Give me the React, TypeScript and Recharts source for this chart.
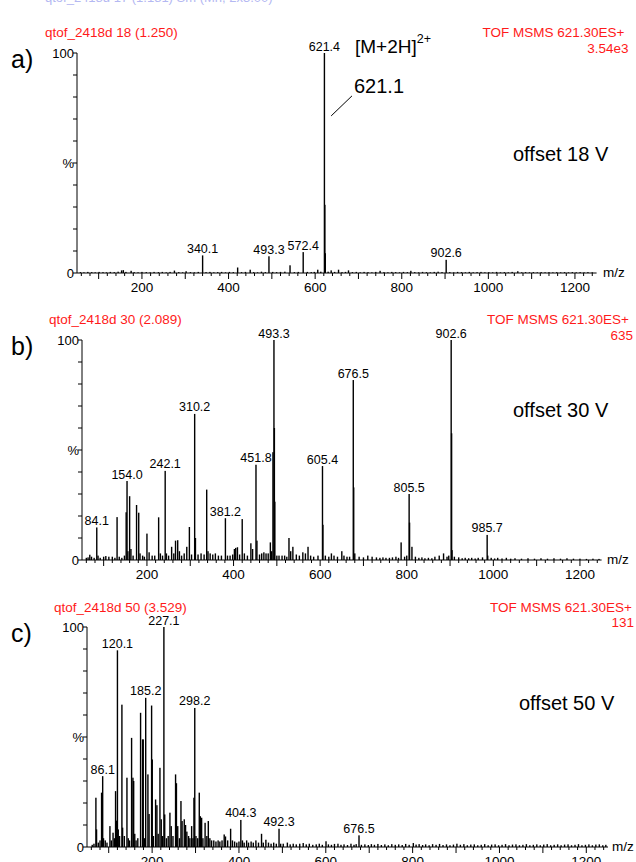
import React from 'react'
import { BarChart, Bar, XAxis, YAxis, LabelList, ReferenceLine } from 'recharts'

const FONT = '"Liberation Sans", Arial, Helvetica, sans-serif'
const RED = '#ff1a1a'

// axis ticks
const xLabelTicks = [200, 400, 600, 800, 1000, 1200]
const xTicks = Array.from({ length: 60 }, (_, i) => 60 + i * 20)
const yTicks = [0, 10, 20, 30, 40, 50, 60, 70, 80, 90, 100]

// a) offset 18 V  [m/z, %]
const peaksA: [number, number][] = [
  [58, 0.4], [66, 0.3], [75, 0.5], [84, 0.4], [92, 0.3], [101, 0.5], [110, 0.4], [118, 0.3],
  [127, 0.5], [136, 0.4], [145, 0.6], [153, 1.2], [157, 1.3], [163, 0.5], [175, 1.0], [182, 0.4],
  [191, 0.3], [200, 0.5], [210, 0.4], [219, 0.3], [228, 0.5], [238, 0.4], [247, 0.5], [256, 0.3],
  [265, 0.5], [275, 1.1], [285, 0.4], [294, 0.3], [302, 0.8], [312, 0.4], [321, 0.3], [330, 0.5],
  [340.1, 8], [348, 0.4], [357, 0.5], [366, 0.3], [375, 0.4], [384, 0.5], [393, 0.3], [402, 0.5],
  [411, 0.4], [421, 2.5], [430, 0.4], [439, 0.5], [450, 1.5], [458, 0.4], [467, 0.3], [476, 0.6],
  [485, 0.4], [493.3, 7.6], [502, 0.5], [511, 0.4], [520, 0.5], [530, 0.6], [542, 3.5], [552, 0.4],
  [561, 0.5], [572.4, 9.5], [582, 0.5], [591, 0.4], [598, 0.5], [606, 1.5], [613, 0.6],
  [621.4, 100], [622.4, 31], [623.4, 9], [630, 0.6], [637, 1.2], [645, 0.5], [654, 1.5], [662, 0.4],
  [670, 0.5], [677, 1.2], [686, 0.4], [695, 0.5], [704, 0.3], [713, 0.5], [722, 0.4], [731, 0.3],
  [740, 0.5], [750, 1.0], [759, 0.4], [768, 0.3], [777, 0.5], [786, 0.4], [795, 0.3], [804, 0.5],
  [813, 0.4], [821, 1.0], [830, 0.4], [839, 0.3], [848, 0.5], [857, 0.4], [866, 0.3], [875, 0.5],
  [884, 0.6], [893, 0.4], [902.6, 6], [911, 0.4], [920, 0.3], [929, 0.5], [938, 0.4], [947, 0.3],
  [956, 0.5], [965, 0.3], [974, 0.4], [983, 0.5], [992, 0.3], [1001, 0.4], [1010, 0.3], [1019, 0.5],
  [1028, 0.3], [1037, 0.4], [1046, 0.3], [1055, 0.5], [1068, 0.8], [1077, 0.3], [1086, 0.4],
  [1095, 0.3], [1104, 0.4], [1113, 0.3], [1122, 0.4], [1131, 0.3], [1140, 0.4], [1149, 0.3],
  [1158, 0.4], [1167, 0.3], [1176, 0.4], [1185, 0.3], [1194, 0.4], [1203, 0.3], [1212, 0.4],
  [1221, 0.3], [1230, 0.4], [1240, 0.3],
]
const labelsA = [340.1, 493.3, 572.4, 621.4, 902.6]

// b) offset 30 V
const peaksB: [number, number][] = [
  [60, 1], [64, 1.2], [68, 2.4], [72, 1.5], [78, 1], [84.1, 14.8], [87, 2], [92, 1], [100, 1.5],
  [105, 1.8], [112, 1.5], [120, 1.5], [126, 1], [131, 19.5], [136, 1.5], [142, 1], [148, 2],
  [152, 21.7], [154.0, 35.9], [156, 4], [160, 29], [163, 5], [168, 2], [176, 25], [181, 21.5],
  [184, 3], [190, 2], [194, 1.5], [200, 12], [205, 3.5], [212, 2], [218, 2], [227, 19.4], [231, 3],
  [236, 2], [242.1, 40.5], [245, 3], [250, 2], [257, 6], [262, 3], [266, 8.8], [271, 9], [275, 4],
  [280, 2], [286, 3], [292, 6], [298, 15], [303, 2.5], [310.2, 66.4], [312, 10], [318, 2.5],
  [325, 3], [332, 2.5], [338, 32], [341, 4], [346, 3], [352, 2.5], [358, 3], [365, 2], [372, 2],
  [381.2, 19], [386, 2], [392, 2], [398, 2.5], [402, 5], [405, 5.5], [409, 5.8], [414, 2.5],
  [420, 18.6], [425, 3], [432, 2], [440, 7.6], [444, 5], [451.8, 43.3], [454, 8.8], [460, 2.5],
  [465, 3], [470, 3.5], [475, 3], [480, 3], [485, 8], [488, 4], [491, 49], [493.3, 100],
  [494.3, 60], [495.3, 26.5], [500, 2], [505, 2], [512, 2], [518, 2], [523, 1.5], [528, 10],
  [532, 4], [537, 6], [545, 2.5], [552, 2], [560, 3.5], [566, 3], [572, 6], [578, 2], [585, 1.5],
  [595, 2], [605.4, 42.7], [606.4, 16], [612, 2], [620, 1.5], [626, 3], [632, 2], [640, 1.5],
  [650, 4], [655, 2], [662, 1.5], [668, 1.5], [676.5, 81.8], [677.5, 33], [680, 3], [690, 1.5],
  [700, 1.2], [710, 2], [720, 1.5], [730, 1.2], [738, 1], [745, 1.2], [752, 1], [760, 1],
  [767, 1.2], [775, 1.5], [781, 1], [787, 8], [795, 1.5], [800, 2], [805.5, 30], [806.5, 17],
  [812, 6], [820, 1.5], [828, 1], [835, 1.2], [842, 0.8], [850, 1], [858, 0.8], [865, 1.5],
  [875, 2], [885, 3], [893, 1.5], [897, 2], [902.6, 100], [903.6, 57.6], [904.6, 4.5], [910, 1.5],
  [920, 1.2], [928, 0.8], [935, 1], [943, 0.8], [950, 1], [958, 0.7], [965, 1], [975, 1.2],
  [985.7, 11.4], [987, 2], [995, 1], [1003, 0.7], [1010, 1], [1020, 0.7], [1030, 1], [1040, 0.6],
  [1050, 0.8], [1065, 0.6], [1080, 0.8], [1095, 0.6], [1110, 0.8], [1125, 0.6], [1140, 0.8],
  [1155, 0.6], [1170, 0.8], [1185, 0.6], [1200, 0.6], [1215, 0.5], [1230, 0.6], [1244, 0.5],
]
const labelsB = [84.1, 154.0, 242.1, 310.2, 381.2, 451.8, 493.3, 605.4, 676.5, 805.5, 902.6, 985.7]

// c) offset 50 V
const peaksC: [number, number][] = [
  [62, 1], [66, 1.5], [70.5, 22.4], [72, 8], [76, 2], [80, 3], [83.6, 24.7], [86.1, 32.2], [88, 4],
  [92, 3], [96, 2], [102.8, 9.5], [106, 3], [110, 6.5], [113, 4], [115.8, 25.4], [118, 12],
  [120.1, 89.4], [122, 8], [125, 5], [130.4, 64.7], [132, 8.8], [136, 5], [142, 31.5], [145, 4],
  [148, 3], [152.7, 49.6], [155.8, 31.5], [157.5, 30], [160, 6], [163, 3], [167, 4], [173.4, 61],
  [178, 48.9], [179.5, 48.9], [182, 4], [185.2, 67.8], [190.3, 33], [193, 15], [198.8, 64.3],
  [200.3, 39.8], [203, 5], [208, 21.6], [211, 19], [214, 6], [218, 36], [221, 12.6], [224, 5],
  [227.1, 100], [229, 14.8], [233, 4], [237, 5], [241, 15.6], [244, 9.5], [248, 5], [254, 33],
  [256, 29], [259, 9.5], [263, 4], [266.4, 20.9], [269, 11.8], [274, 12.6], [277, 10], [280, 7],
  [284, 5], [287, 4], [291, 9.5], [294, 4], [296.3, 22.4], [298.2, 63.2], [301, 5], [305, 4],
  [308.6, 24.7], [311, 14], [314, 13.3], [317, 4], [322, 11], [326, 5], [329.4, 11.8], [333, 4],
  [337, 3], [342, 3], [347, 2.5], [352, 3], [356, 2.5], [361, 3], [366, 5.7], [369, 4.8], [374, 3],
  [380.8, 8.3], [385, 3], [390, 2.5], [395, 2], [400, 2.5], [404.3, 12.3], [408, 3], [412, 2],
  [417.7, 3], [422, 2], [428, 2.5], [433, 2], [439, 3], [445, 2], [452, 6], [456, 2], [462, 3.3],
  [468, 2], [474, 1.5], [480, 2], [486, 1.5], [492.3, 8.3], [496, 1.5], [502, 1.5], [511.5, 2],
  [518, 1.2], [525, 1.5], [532, 1.2], [540, 1.5], [548, 1.8], [555, 1.2], [562, 1.5], [570, 1],
  [578, 1.2], [585, 1.5], [592, 1], [600.5, 2.6], [606, 1.2], [613, 1], [620, 1.4], [628, 1.5],
  [635, 1], [642, 1.2], [650, 0.9], [658, 1.5], [665, 1], [670, 1.3], [676.5, 5.3], [682, 1],
  [690, 1.2], [698, 0.9], [705, 1.3], [712, 1], [720, 1.4], [728, 0.9], [736, 1.2], [744, 0.8],
  [752, 1.3], [760, 1], [768, 1.2], [776, 0.9], [784, 1.4], [792, 1], [801.6, 1.8], [808, 1.1],
  [815, 1.3], [823, 0.9], [830, 1.2], [838, 0.8], [846, 1.3], [854, 1], [862, 1.4], [870, 0.9],
  [878, 1.2], [886, 0.8], [894, 1.1], [902, 1.5], [910, 1], [918, 1.3], [926, 0.8], [934, 1.1],
  [942, 1.2], [950, 0.8], [958, 1], [966, 1.3], [974, 0.8], [982, 1.1], [990, 1.2], [998, 0.8],
  [1006, 1], [1014, 1.3], [1022, 0.8], [1030, 1.1], [1038, 1.2], [1046, 0.8], [1054, 1],
  [1062, 1.3], [1070, 0.8], [1078, 1], [1086, 1.2], [1094, 0.8], [1102, 1.1], [1110, 1.3],
  [1118, 0.8], [1126, 1], [1134, 1.2], [1142, 0.8], [1150, 1.1], [1158, 1.2], [1166, 0.8],
  [1174, 1], [1182, 1.3], [1190, 0.8], [1198, 1], [1206, 1.2], [1214, 0.8], [1222, 1.1],
  [1230, 1.2], [1238, 0.8], [1245, 1],
]
const labelsC = [86.1, 120.1, 185.2, 227.1, 298.2, 404.3, 492.3, 676.5]

function toRows(peaks: [number, number][], labels: number[]) {
  return peaks.map(([mz, pct]) => ({
    mz,
    pct,
    label: labels.some((l) => Math.abs(l - mz) < 0.01) ? mz.toFixed(1) : '',
  }))
}

function XTick({ x, y, payload }: any) {
  const v = payload.value
  const len = v % 100 === 0 ? 6 : 3
  return (
    <g>
      <line x1={x} x2={x} y1={y} y2={y + len} stroke="#000" strokeWidth={1} />
      {xLabelTicks.includes(v) && (
        <text x={x} y={y + 19} textAnchor="middle" fontSize={13.5} fontFamily={FONT} fill="#000">
          {v}
        </text>
      )}
    </g>
  )
}

function YTick({ x, y, payload }: any) {
  const v = payload.value
  const label = v === 100 ? '100' : v === 50 ? '%' : v === 0 ? '0' : ''
  return (
    <g>
      <line x1={x - 4} x2={x} y1={y} y2={y} stroke="#000" strokeWidth={1} />
      {label && (
        <text x={x - 3} y={y} dy="0.36em" textAnchor="end" fontSize={13} fontFamily={FONT} fill="#000">
          {label}
        </text>
      )}
    </g>
  )
}

function Stick({ x, y, width, height }: any) {
  if (!height || height <= 0) return null
  return <rect x={x + width / 2 - 0.7} y={y} width={1.4} height={height} fill="#000" />
}

function PeakLabel({ x, y, width, value }: any) {
  if (!value) return null
  return (
    <text x={x + width / 2} y={y - 2.5} textAnchor="middle" fontSize={12.5} fontFamily={FONT} fill="#000">
      {value}
    </text>
  )
}

interface Box { left: number; right: number; top: number; bottom: number }

function Spectrum({ rows, box, children }: { rows: any[]; box: Box; children?: React.ReactNode }) {
  const padTop = 45
  const axisH = 25
  const yW = 40
  return (
    <div style={{ position: 'absolute', left: 0, top: box.top - padTop }}>
      <BarChart
        width={636}
        height={box.bottom - box.top + padTop + axisH}
        data={rows}
        margin={{ top: padTop, right: 636 - box.right, bottom: 0, left: box.left - yW }}
      >
        <XAxis
          dataKey="mz"
          type="number"
          domain={[50, 1250]}
          ticks={xTicks}
          interval={0}
          height={axisH}
          tickSize={0}
          tickMargin={0}
          tickLine={false}
          tick={XTick}
          axisLine={{ stroke: '#000' }}
          allowDataOverflow
        />
        <YAxis
          type="number"
          domain={[0, 100]}
          ticks={yTicks}
          interval={0}
          width={yW}
          tickSize={0}
          tickMargin={0}
          tickLine={false}
          tick={YTick}
          axisLine={{ stroke: '#000' }}
        />
        <Bar dataKey="pct" isAnimationActive={false} shape={Stick}>
          <LabelList dataKey="label" content={PeakLabel} />
        </Bar>
        {children}
      </BarChart>
    </div>
  )
}

const rowsA = toRows(peaksA, labelsA)
const rowsB = toRows(peaksB, labelsB)
const rowsC = toRows(peaksC, labelsC)

export default function App() {
  const t = { fontFamily: FONT, dominantBaseline: 'central' as const }
  return (
    <div style={{ position: 'absolute', left: 0, top: 0, width: 636, height: 862, background: '#fff', overflow: 'hidden' }}>
      <Spectrum rows={rowsA} box={{ left: 77, right: 596.6, top: 53, bottom: 273 }}>
        <ReferenceLine
          segment={[{ x: 685, y: 80.5 }, { x: 637, y: 71.4 }]}
          stroke="#000"
          strokeWidth={1}
          ifOverflow="visible"
        />
      </Spectrum>
      <Spectrum rows={rowsB} box={{ left: 82, right: 601.6, top: 340, bottom: 560 }} />
      <Spectrum rows={rowsC} box={{ left: 87, right: 608, top: 627, bottom: 847 }} />

      <svg width={636} height={862} style={{ position: 'absolute', left: 0, top: 0, pointerEvents: 'none' }}>
        {/* remnant of the previous header, cut off at the top */}
        <text x={45} y={-3} fontSize={13} fill="#b4b8f2" {...t}>qtof_2418d 17 (1.181) Sm (Mn, 2x3.00)</text>

        {/* a) */}
        <text x={45} y={32} fontSize={13.5} fill={RED} {...t}>qtof_2418d 18 (1.250)</text>
        <text x={624.5} y={32} fontSize={13.5} fill={RED} textAnchor="end" {...t}>TOF MSMS 621.30ES+</text>
        <text x={628.5} y={48} fontSize={13.5} fill={RED} textAnchor="end" {...t}>3.54e3</text>
        <text x={11} y={59} fontSize={25} fill="#000" {...t}>a)</text>
        <text x={355} y={46} fontSize={19} fill="#000" {...t}>
          [M+2H]<tspan fontSize={12.5} dy={-7}>2+</tspan>
        </text>
        <text x={354} y={86} fontSize={20} fill="#000" {...t}>621.1</text>
        <text x={513} y={154} fontSize={20} fill="#000" {...t}>offset 18 V</text>
        <text x={603} y={272} fontSize={13.5} fill="#000" {...t}>m/z</text>

        {/* b) */}
        <text x={49} y={319} fontSize={13.5} fill={RED} {...t}>qtof_2418d 30 (2.089)</text>
        <text x={629} y={319} fontSize={13.5} fill={RED} textAnchor="end" {...t}>TOF MSMS 621.30ES+</text>
        <text x={633} y={335} fontSize={13.5} fill={RED} textAnchor="end" {...t}>635</text>
        <text x={11} y={346} fontSize={25} fill="#000" {...t}>b)</text>
        <text x={513} y={410} fontSize={20} fill="#000" {...t}>offset 30 V</text>
        <text x={607} y={559} fontSize={13.5} fill="#000" {...t}>m/z</text>

        {/* c) */}
        <text x={54} y={607} fontSize={13.5} fill={RED} {...t}>qtof_2418d 50 (3.529)</text>
        <text x={632} y={607} fontSize={13.5} fill={RED} textAnchor="end" {...t}>TOF MSMS 621.30ES+</text>
        <text x={634} y={622} fontSize={13.5} fill={RED} textAnchor="end" {...t}>131</text>
        <text x={11} y={633} fontSize={25} fill="#000" {...t}>c)</text>
        <text x={519} y={703} fontSize={20} fill="#000" {...t}>offset 50 V</text>
        <text x={612} y={846} fontSize={13.5} fill="#000" {...t}>m/z</text>
      </svg>
    </div>
  )
}
